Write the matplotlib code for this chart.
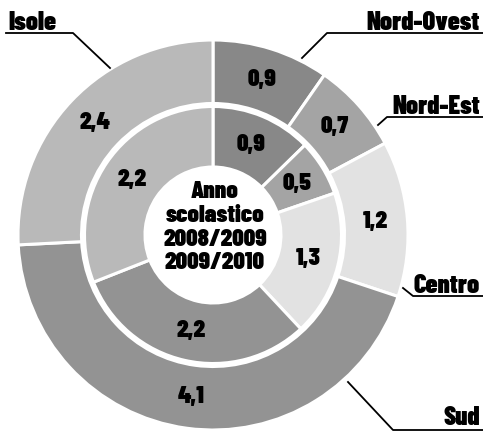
import numpy as np
import matplotlib
matplotlib.use("Agg")
import matplotlib.pyplot as plt

# regions, clockwise from the top
regions = ["Nord-Ovest", "Nord-Est", "Centro", "Sud", "Isole"]
vals_0809 = [0.9, 0.5, 1.3, 2.2, 2.2]   # inner ring
vals_0910 = [0.9, 0.7, 1.2, 4.1, 2.4]   # outer ring
greys = ["#888888", "#a4a4a4", "#e2e2e2", "#939393", "#b9b9b9"]
center_lines = ["Anno", "scolastico", "2008/2009", "2009/2010"]

W, H = 483, 433
plt.rcParams["font.family"] = ["Barlow Condensed", "DejaVu Sans"]

fig = plt.figure(figsize=(W / 100, H / 100), dpi=100)
ax = fig.add_axes([0, 0, 1, 1])

cx, cy = 213, 235
R_out, R_mid, R_in = 195, 130, 68


def fmt(v):
    return f"{v:.1f}".replace(".", ",")


def ring(values, r_outer, r_inner):
    # y axis is inverted below, so counterclockwise in data = clockwise on screen
    wedges, _ = ax.pie(values, colors=greys, startangle=-90, counterclock=True,
                       radius=r_outer, center=(cx, cy),
                       wedgeprops=dict(width=r_outer - r_inner, edgecolor="white", linewidth=2.2),
                       frame=True)
    rm = (r_outer + r_inner) / 2
    for w, v in zip(wedges, values):
        a = np.deg2rad((w.theta1 + w.theta2) / 2)
        ax.text(cx + rm * np.cos(a), cy + rm * np.sin(a), fmt(v), ha="center", va="center",
                fontsize=18, fontweight=900, color="black")


ring(vals_0910, R_out, R_mid + 1.5)
ring(vals_0809, R_mid - 1.5, R_in)
ax.set_xlim(0, W)
ax.set_ylim(H, 0)
ax.set_aspect("equal")
ax.axis("off")

for i, line in enumerate(center_lines):
    ax.text(cx + 2, 192 + i * 23.5, line, ha="center", va="center", fontsize=18, fontweight=900)

# region labels with leader lines
labels = {
    "Nord-Ovest": dict(text=(480, 30), line=[(302, 58), (327, 33), (483, 33)]),
    "Nord-Est": dict(text=(480, 114), line=[(378, 125), (387, 117), (483, 117)]),
    "Centro": dict(text=(480, 293), line=[(403, 288), (413, 296), (483, 296)]),
    "Sud": dict(text=(480, 425), line=[(348, 382), (393, 430), (483, 430)]),
    "Isole": dict(text=(8, 30), line=[(110, 68), (73, 33), (6, 33)]),
}
for name in regions:
    spec = labels[name]
    tx, ty = spec["text"]
    ha = "left" if tx < cx else "right"
    ax.text(tx, ty, name, ha=ha, va="baseline", fontsize=19, fontweight=900)
    xs, ys = zip(*spec["line"])
    ax.plot(xs, ys, color="black", linewidth=1.3)

fig.savefig("out.png", dpi=100)
